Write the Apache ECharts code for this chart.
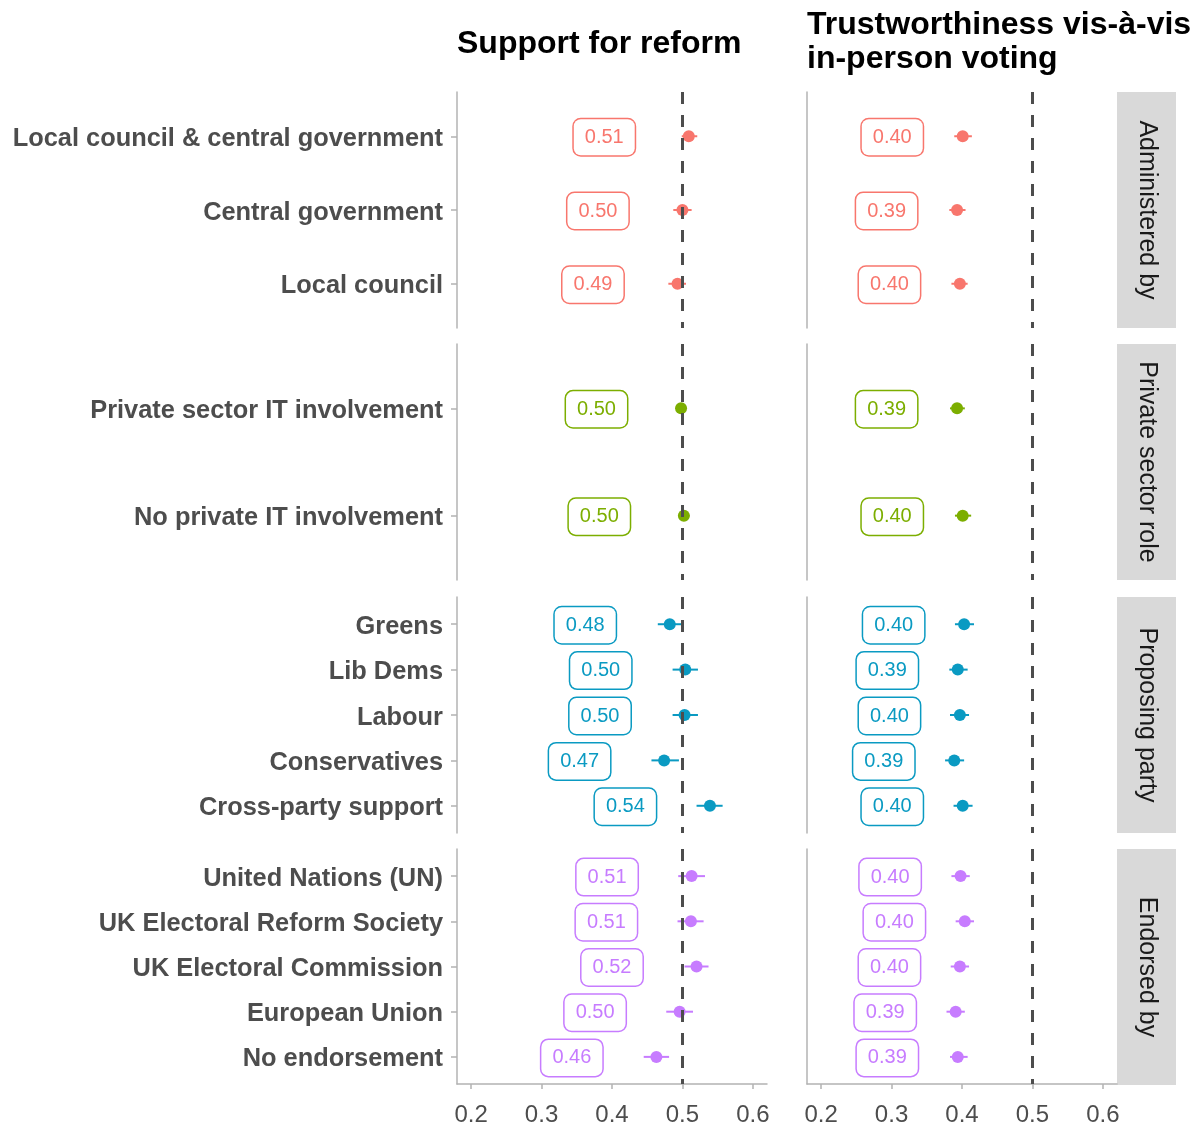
<!DOCTYPE html>
<html>
<head>
<meta charset="utf-8">
<title>Support and trustworthiness</title>
<script src="https://cdn.jsdelivr.net/npm/echarts@6/dist/echarts.min.js"></script>
<style>
    html, body { margin: 0; padding: 0; background: #fff; }
    #chart { width: 1194px; height: 1127px; }
</style>
</head>
<body>
<div id="chart"></div>
<script>
// --- DATA ---
const facetNames = ['Administered by', 'Private sector role', 'Proposing party', 'Endorsed by'];
const facetColors = ['#F8766D', '#7CAE00', '#0A9AC2', '#C77CFF'];

const adminCats = ['Local council & central government', 'Central government', 'Local council'];
const privateCats = ['Private sector IT involvement', 'No private IT involvement'];
const partyCats = ['Greens', 'Lib Dems', 'Labour', 'Conservatives', 'Cross-party support'];
const endorseCats = ['United Nations (UN)', 'UK Electoral Reform Society', 'UK Electoral Commission', 'European Union', 'No endorsement'];

// values run through the four facets in the order above
const supportEst = [0.509, 0.500, 0.493, 0.498, 0.502, 0.482, 0.504, 0.503, 0.474, 0.539, 0.513, 0.512, 0.520, 0.496, 0.463];
const supportLo  = [0.499, 0.487, 0.480, 0.491, 0.495, 0.465, 0.486, 0.486, 0.456, 0.520, 0.494, 0.493, 0.503, 0.477, 0.445];
const supportHi  = [0.521, 0.513, 0.505, 0.506, 0.510, 0.501, 0.522, 0.522, 0.495, 0.557, 0.532, 0.530, 0.537, 0.515, 0.481];
const supportLabels = ['0.51', '0.50', '0.49', '0.50', '0.50', '0.48', '0.50', '0.50', '0.47', '0.54', '0.51', '0.51', '0.52', '0.50', '0.46'];

const trustEst = [0.401, 0.393, 0.397, 0.393, 0.401, 0.403, 0.394, 0.397, 0.389, 0.401, 0.398, 0.404, 0.397, 0.391, 0.394];
const trustLo  = [0.389, 0.382, 0.385, 0.383, 0.390, 0.390, 0.382, 0.383, 0.376, 0.388, 0.385, 0.391, 0.384, 0.378, 0.383];
const trustHi  = [0.414, 0.405, 0.408, 0.404, 0.413, 0.417, 0.408, 0.410, 0.403, 0.415, 0.411, 0.417, 0.410, 0.404, 0.408];
const trustLabels = ['0.40', '0.39', '0.40', '0.39', '0.40', '0.40', '0.39', '0.40', '0.39', '0.40', '0.40', '0.40', '0.40', '0.39', '0.39'];

const xTicks = [0.2, 0.3, 0.4, 0.5, 0.6];
const panelTitles = ['Support for reform', 'Trustworthiness vis-à-vis\nin-person voting'];

// --- LAYOUT ---
const FONT = '"Liberation Sans", Arial, Helvetica, sans-serif';
const facetCats = [adminCats, privateCats, partyCats, endorseCats];
const columns = [
    { est: supportEst, lo: supportLo, hi: supportHi, labels: supportLabels, left: 457, offset: 0.12 },
    { est: trustEst, lo: trustLo, hi: trustHi, labels: trustLabels, left: 807, offset: 0.10 }
];
const panelWidth = 310;
const panelHeight = 236;
const rowTops = [92, 344, 597, 849];
const stripLeft = 1117;
const stripWidth = 59;

const grids = [];
const xAxes = [];
const yAxes = [];
const series = [];

let start = 0;
facetCats.forEach((cats, row) => {
    const color = facetColors[row];
    const idx = cats.map((c, i) => i);
    const isBottom = row === facetCats.length - 1;
    const base = start;

    columns.forEach((col, c) => {
        const g = grids.length;
        const labels = col.labels.slice(base, base + cats.length);
        grids.push({ left: col.left, top: rowTops[row], width: panelWidth, height: panelHeight });

        xAxes.push({
            type: 'value', gridIndex: g, min: 0.18, max: 0.62,
            splitLine: { show: false },
            axisLine: { show: isBottom, onZero: false, lineStyle: { color: '#b3b3b3', width: 1.5 } },
            axisTick: { show: isBottom, customValues: xTicks, length: 5, lineStyle: { color: '#b3b3b3', width: 1.5 } },
            axisLabel: {
                show: isBottom, customValues: xTicks, margin: 13,
                formatter: v => '{t|' + v.toFixed(1) + '}',
                rich: { t: { color: '#4d4d4d', fontSize: 24, fontFamily: FONT, padding: [6, 0, 0, 0] } }
            }
        });

        yAxes.push({
            type: 'value', gridIndex: g, inverse: true,
            min: -0.6, max: cats.length - 0.4,
            splitLine: { show: false },
            axisLine: { show: true, onZero: false, lineStyle: { color: '#b3b3b3', width: 1.5 } },
            axisTick: { show: c === 0, customValues: idx, length: 6, lineStyle: { color: '#b3b3b3', width: 1.5 } },
            axisLabel: {
                show: c === 0, customValues: idx, margin: 14,
                formatter: v => '{c|' + cats[Math.round(v)] + '}',
                rich: { c: { color: '#4d4d4d', fontSize: 25.4, fontWeight: 'bold', fontFamily: FONT, padding: [5, 0, 0, 0] } }
            }
        });

        // error bars
        series.push({
            type: 'custom', xAxisIndex: g, yAxisIndex: g, z: 2,
            encode: { x: [0, 1], y: 2 },
            data: idx.map(i => [col.lo[base + i], col.hi[base + i], i]),
            renderItem: (params, api) => {
                const p1 = api.coord([api.value(0), api.value(2)]);
                const p2 = api.coord([api.value(1), api.value(2)]);
                return {
                    type: 'line',
                    shape: { x1: p1[0], y1: p1[1], x2: p2[0], y2: p2[1] },
                    style: { stroke: color, lineWidth: 2 }
                };
            }
        });

        // point estimates
        series.push({
            type: 'scatter', xAxisIndex: g, yAxisIndex: g, z: 3,
            symbolSize: 12,
            itemStyle: { color: color, opacity: 1 },
            data: idx.map(i => [col.est[base + i], i])
        });

        // boxed value labels, placed left of each estimate
        series.push({
            type: 'custom', xAxisIndex: g, yAxisIndex: g, z: 4,
            encode: { x: 0, y: 1 },
            data: idx.map(i => [col.est[base + i] - col.offset, i]),
            renderItem: (params, api) => {
                const p = api.coord([api.value(0), api.value(1)]);
                return {
                    type: 'text', x: p[0], y: p[1] + 1,
                    style: {
                        text: labels[params.dataIndex],
                        fill: color, fontSize: 20, fontFamily: FONT,
                        align: 'center', verticalAlign: 'middle',
                        backgroundColor: '#fff', borderColor: color, borderWidth: 1.5,
                        borderRadius: 7, padding: [8, 11, 8, 11]
                    }
                };
            },
            markLine: {
                silent: true, symbol: ['none', 'none'], animation: false,
                label: { show: false },
                lineStyle: { color: '#4d4d4d', width: 3, type: [12, 11] },
                data: [{ xAxis: 0.5 }]
            }
        });
    });
    start += cats.length;
});

// --- FACET STRIPS ---
const graphics = [];
facetNames.forEach((name, row) => {
    graphics.push({
        type: 'rect',
        shape: { x: stripLeft, y: rowTops[row], width: stripWidth, height: panelHeight },
        style: { fill: '#d9d9d9' }
    });
    graphics.push({
        type: 'text',
        x: stripLeft + stripWidth / 2, y: rowTops[row] + panelHeight / 2,
        rotation: -Math.PI / 2,
        style: {
            text: name, fill: '#1a1a1a', fontSize: 25, fontFamily: FONT,
            align: 'center', verticalAlign: 'middle'
        }
    });
});

const chart = echarts.init(document.getElementById('chart'));
chart.setOption({
    animation: false,
    backgroundColor: '#fff',
    title: [
        {
            text: panelTitles[0], left: 457, top: 28, padding: 0,
            textStyle: { fontSize: 32, fontWeight: 'bold', color: '#000', fontFamily: FONT }
        },
        {
            text: panelTitles[1], left: 807, top: 8, padding: 0,
            textStyle: { fontSize: 32, fontWeight: 'bold', color: '#000', fontFamily: FONT, lineHeight: 34 }
        }
    ],
    grid: grids,
    xAxis: xAxes,
    yAxis: yAxes,
    series: series,
    graphic: graphics
});
</script>
</body>
</html>
